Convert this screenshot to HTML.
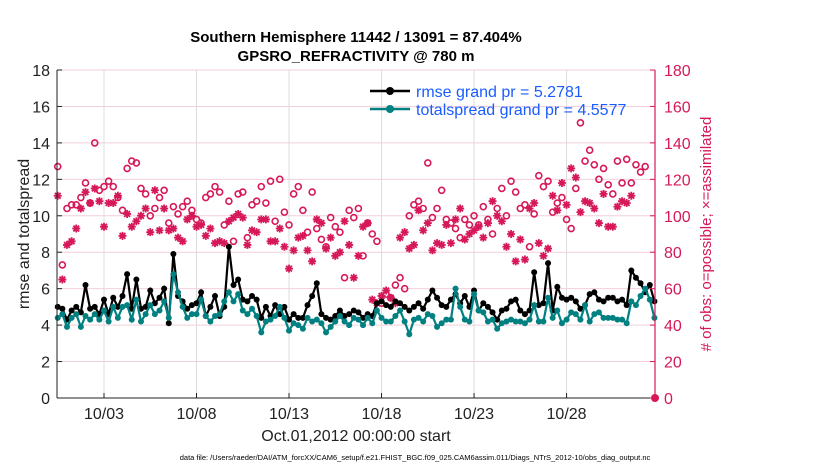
<!DOCTYPE html>
<html><head><meta charset="utf-8"><style>
body{margin:0;background:#fff;}
svg{display:block;font-family:"Liberation Sans",sans-serif;}
</style></head><body>
<svg id="chart" width="830" height="470"></svg>
<script>
const rmseVals=[5.0,4.9,4.3,4.8,5.0,4.7,6.2,4.9,5.0,4.6,5.4,4.6,5.5,5.0,5.6,6.8,4.9,6.5,4.9,5.0,5.9,5.2,5.5,6.0,4.1,7.9,5.6,5.3,4.9,5.1,5.2,5.8,4.5,5.0,5.6,4.5,5.0,8.3,6.2,6.5,5.4,5.3,5.6,5.4,4.4,5.0,4.5,5.1,4.6,5.0,4.3,4.6,4.4,4.4,5.1,5.6,6.3,4.6,4.4,4.3,4.5,4.8,4.5,4.6,4.8,4.7,4.4,4.6,4.5,5.2,5.3,5.1,5.0,5.3,5.2,5.0,4.8,5.0,5.2,4.9,5.4,5.9,5.5,5.1,5.0,5.4,5.7,5.2,5.6,5.0,5.9,4.8,5.2,5.0,4.7,4.3,4.8,4.9,5.3,5.4,4.8,4.6,4.8,6.9,5.1,5.2,7.4,4.8,6.1,5.5,5.4,5.5,5.3,4.9,5.1,5.7,5.8,5.4,5.3,5.5,5.5,5.3,5.4,5.1,7.0,6.6,6.3,5.8,6.2,5.3];
const spreadVals=[4.4,4.6,3.9,4.4,4.6,3.9,4.5,4.3,4.6,4.3,4.8,4.2,5.0,4.4,5.0,5.1,4.3,5.4,4.2,4.6,5.1,4.6,4.8,5.3,4.4,6.8,5.8,5.0,4.4,4.6,4.6,5.4,4.5,4.2,4.5,4.6,5.3,5.8,5.3,5.7,4.8,4.6,4.9,4.5,3.6,4.2,4.3,4.5,5.0,4.4,3.7,4.1,4.0,3.8,4.4,4.2,4.3,4.1,3.6,3.9,4.2,4.5,4.2,4.0,4.4,4.3,4.0,4.4,4.1,4.8,4.4,4.2,4.2,4.5,4.8,4.2,3.5,4.3,4.4,4.2,4.6,4.5,3.9,4.1,4.3,4.3,6.0,5.0,4.3,4.2,5.7,4.8,4.7,4.2,4.3,3.8,4.1,4.2,4.3,4.2,4.2,4.1,4.3,5.1,4.2,4.2,5.5,4.4,4.8,4.1,4.3,4.7,4.6,4.3,5.1,4.2,4.6,4.7,4.4,4.4,4.4,4.3,4.3,4.1,5.3,5.1,5.6,6.0,5.4,4.4];
const possibleVals=[127,73,104,106,106,110,118,107,140,114,116,119,116,110,103,126,130,129,115,112,100,104,110,114,96,105,101,105,108,103,98,96,110,112,116,113,95,108,86,112,113,88,106,108,116,107,119,97,120,102,95,112,116,103,91,113,93,87,83,99,94,91,66,103,99,104,78,96,90,86,52,57,55,62,66,60,100,106,108,104,129,99,104,114,98,96,93,88,98,95,100,95,105,98,90,104,115,100,119,113,104,106,83,101,122,116,119,102,107,110,98,93,115,151,130,136,128,120,126,117,112,130,118,131,118,128,124,127];
const assimVals=[111,65,84,86,93,104,113,107,115,108,94,107,107,111,89,101,94,97,100,104,91,114,92,104,92,93,88,86,98,100,94,95,89,93,85,86,85,97,99,101,99,84,92,91,98,98,86,86,93,83,71,81,88,89,81,75,98,96,82,88,78,80,97,84,66,78,94,96,54,52,56,59,55,52,88,91,82,84,103,92,96,81,85,84,95,85,98,104,87,90,92,94,88,96,108,100,97,83,90,75,87,76,104,107,85,78,82,111,103,118,106,126,121,102,108,107,104,96,112,94,94,105,108,107,111];
const xTickLabels=["10/03","10/08","10/13","10/18","10/23","10/28"];
const xTickDays=[3,8,13,18,23,28];
const yLeftTicks=[0,2,4,6,8,10,12,14,16,18];
const yRightTicks=[0,20,40,60,80,100,120,140,160,180];

const NS="http://www.w3.org/2000/svg";
const svg=document.getElementById('chart');
const L=57,R=655,T=70,B=398;
const dayMin=0.46,dayMax=32.78;
const xS=d=>L+(d-dayMin)/(dayMax-dayMin)*(R-L);
const yS=v=>B-v/18*(B-T);
const yR=v=>B-v/180*(B-T);
const tOf=i=>0.5+i*0.25;
function el(tag,attrs,parent){const e=document.createElementNS(NS,tag);for(const k in attrs)e.setAttribute(k,attrs[k]);(parent||svg).appendChild(e);return e;}
function txt(s,attrs,parent){const e=el('text',attrs,parent);e.textContent=s;return e;}

const grid=el('g',{});


yLeftTicks.forEach(v=>{const g=el('line',{x1:L,x2:R,y1:yS(v),y2:yS(v),stroke:'#f3cfdc','stroke-width':1},grid);

});
xTickDays.forEach(d=>{const g=el('line',{x1:xS(d),x2:xS(d),y1:T,y2:B,stroke:'#dcdcdc','stroke-width':1},grid);

});

const sc=el('g',{});


possibleVals.forEach((v,i)=>{const c=el('circle',{cx:xS(tOf(i)),cy:yR(v),r:3,fill:'none',stroke:'#d6185a','stroke-width':1.6},sc);

});
assimVals.forEach((v,i)=>{const x=xS(tOf(i)),y=yR(v),r=4,d=2.9;
const s=el('path',{d:`M${x-r},${y}H${x+r}M${x},${y-r}V${y+r}M${x-d},${y-d}L${x+d},${y+d}M${x-d},${y+d}L${x+d},${y-d}`,stroke:'#d6185a','stroke-width':1.8,fill:'none'},sc);

});

function series(vals,color,name){
 const g=el('g',{});
 
 
 el('polyline',{points:vals.map((v,i)=>xS(tOf(i))+','+yS(v)).join(' '),fill:'none',stroke:color,'stroke-width':2.2},g);
 vals.forEach((v,i)=>{const c=el('circle',{cx:xS(tOf(i)),cy:yS(v),r:3,fill:color},g);
 
 });
}
series(rmseVals,'#000','rmse-line');
series(spreadVals,'#008080','totalspread-line');

const ax=el('g',{});


el('line',{x1:L,x2:L,y1:T,y2:B,stroke:'#222','stroke-width':1},ax);
el('line',{x1:L,x2:R,y1:B,y2:B,stroke:'#222','stroke-width':1},ax);
el('line',{x1:R,x2:R,y1:T,y2:B,stroke:'#d6185a','stroke-width':1.2},ax);
yLeftTicks.forEach(v=>{el('line',{x1:L,x2:L+5,y1:yS(v),y2:yS(v),stroke:'#222'},ax);
const t=txt(String(v),{x:L-7,y:yS(v)+6,'text-anchor':'end','font-size':16,fill:'#222'},ax);

});
yRightTicks.forEach(v=>{el('line',{x1:R-5,x2:R,y1:yR(v),y2:yR(v),stroke:'#d6185a'},ax);
const t=txt(String(v),{x:R+9,y:yR(v)+6,'font-size':16,fill:'#d6185a'},ax);

});
xTickDays.forEach((d,i)=>{el('line',{x1:xS(d),x2:xS(d),y1:B,y2:B-5,stroke:'#222'},ax);
const t=txt(xTickLabels[i],{x:xS(d),y:B+21,'text-anchor':'middle','font-size':16,fill:'#222'},ax);

});
el('circle',{cx:R,cy:B,r:4,fill:'#d6185a'},ax);

let t;
t=txt('Southern Hemisphere 11442 / 13091 = 87.404%',{x:356,y:42,'text-anchor':'middle','font-size':15,'font-weight':'bold',fill:'#000'});


t=txt('GPSRO_REFRACTIVITY @ 780 m',{x:356,y:61,'text-anchor':'middle','font-size':15,'font-weight':'bold',fill:'#000'});


t=txt('rmse and totalspread',{x:0,y:0,'text-anchor':'middle','font-size':16,fill:'#222',transform:'translate(29,234) rotate(-90)'});


t=txt('# of obs: o=possible; \u00d7=assimilated',{x:0,y:0,'text-anchor':'middle','font-size':15,fill:'#d6185a',transform:'translate(711,234) rotate(-90)'});


t=txt('Oct.01,2012 00:00:00 start',{x:356,y:441,'text-anchor':'middle','font-size':16,fill:'#222'});


t=txt('data file: /Users/raeder/DAI/ATM_forcXX/CAM6_setup/f.e21.FHIST_BGC.f09_025.CAM6assim.011/Diags_NTrS_2012-10/obs_diag_output.nc',{x:415,y:460,'text-anchor':'middle','font-size':7.5,fill:'#000'});



const lg=el('g',{});


[['rmse grand pr = 5.2781','#000',91],['totalspread grand pr = 4.5577','#008080',109]].forEach(([s,c,y])=>{
 const e=el('g',{},lg);
 
 
 el('line',{x1:370,x2:410,y1:y,y2:y,stroke:c,'stroke-width':2.5},e);
 el('circle',{cx:390,cy:y,r:4,fill:c},e);
 txt(s,{x:416,y:y+6,'font-size':16,fill:'#1a5cff'},e);
});
</script>
</body></html>
